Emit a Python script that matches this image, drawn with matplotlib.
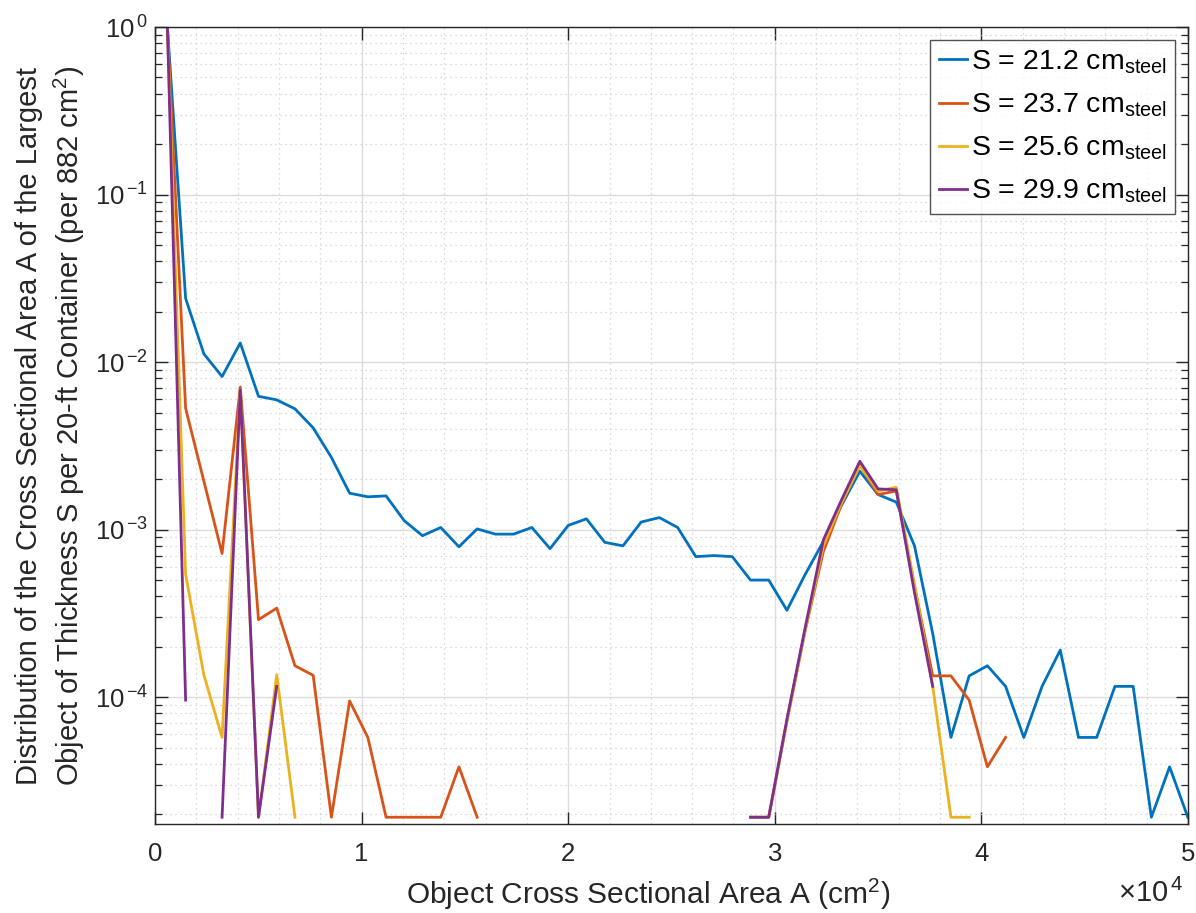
import numpy as np
import matplotlib
matplotlib.use("Agg")
import matplotlib.pyplot as plt
from matplotlib.ticker import LogLocator, MultipleLocator, FuncFormatter, NullFormatter

plt.rcParams['font.family'] = ['Liberation Sans', 'DejaVu Sans']
plt.rcParams['mathtext.fontset'] = 'custom'
plt.rcParams['mathtext.rm'] = 'Liberation Sans'
plt.rcParams['mathtext.it'] = 'Liberation Sans:italic'
plt.rcParams['mathtext.bf'] = 'Liberation Sans:bold'

nan = np.nan
bin_width = 882.0
first_center = 600.0
n_bins = 57

labels = ['S = 21.2 cm$_{\\mathrm{steel}}$', 'S = 23.7 cm$_{\\mathrm{steel}}$',
          'S = 25.6 cm$_{\\mathrm{steel}}$', 'S = 29.9 cm$_{\\mathrm{steel}}$']
colors = ['#0072BD', '#D95319', '#EDB120', '#7E2F8E']

s212 = [1.0, 0.024, 0.0112, 0.0082, 0.013, 0.00625, 0.00595, 0.00526, 0.00405, 0.0027,
        0.00165, 0.00157, 0.00159, 0.00113, 0.00092, 0.00103, 0.00079, 0.00101, 0.00094, 0.00094,
        0.00103, 0.00077, 0.00106, 0.00116, 0.00084, 0.00080, 0.00111, 0.00118, 0.00103, 0.00069,
        0.00070, 0.00069, 0.00050, 0.00050, 0.00033, 0.00054, 0.00085, 0.0014, 0.00223, 0.00162,
        0.00146, 0.0008, 0.00024, 5.75e-5, 1.34e-4, 1.54e-4, 1.16e-4, 5.75e-5, 1.16e-4, 1.91e-4,
        5.75e-5, 5.75e-5, 1.16e-4, 1.16e-4, 1.92e-5, 3.84e-5, 1.92e-5]

s237 = [1.0, 0.0053, 0.00195, 0.00072, 0.0071, 0.00029, 0.00034, 0.000154, 0.000135, 1.92e-5,
        9.5e-5, 5.75e-5, 1.92e-5, 1.92e-5, 1.92e-5, 1.92e-5, 3.84e-5, 1.92e-5, nan, nan,
        nan, nan, nan, nan, nan, nan, nan, nan, nan, nan,
        nan, nan, 1.92e-5, 1.92e-5, 7.2e-5, 2.5e-4, 0.00074, 0.00142, 0.00244, 0.00162,
        0.0017, 0.00046, 1.34e-4, 1.34e-4, 9.6e-5, 3.84e-5, 5.75e-5, nan, nan, nan,
        nan, nan, nan, nan, nan, nan, nan]

s256 = [1.0, 0.00054, 0.000136, 5.75e-5, 0.0068, 1.92e-5, 0.000136, 1.92e-5, nan, nan,
        nan, nan, nan, nan, nan, nan, nan, nan, nan, nan,
        nan, nan, nan, nan, nan, nan, nan, nan, nan, nan,
        nan, nan, 1.92e-5, 1.92e-5, 7.2e-5, 2.5e-4, 0.0008, 0.00145, 0.0024, 0.0017,
        0.00179, 0.00047, 1.16e-4, 1.92e-5, 1.92e-5, nan, nan, nan, nan, nan,
        nan, nan, nan, nan, nan, nan, nan]

s299 = [1.0, 9.6e-5, nan, 1.92e-5, 0.0068, 1.92e-5, 1.16e-4, nan, nan, nan,
        nan, nan, nan, nan, nan, nan, nan, nan, nan, nan,
        nan, nan, nan, nan, nan, nan, nan, nan, nan, nan,
        nan, nan, 1.92e-5, 1.92e-5, 7.4e-5, 2.6e-4, 0.00087, 0.00151, 0.00256, 0.00175,
        0.00173, 0.00042, 1.16e-4, nan, nan, nan, nan, nan, nan, nan,
        nan, nan, nan, nan, nan, nan, nan]

area = first_center + bin_width * np.arange(n_bins)
series = [s212, s237, s256, s299]

fig = plt.figure(figsize=(11.96, 9.13), dpi=100)
ax = fig.add_axes([0.1296, 0.0975, 0.8637, 0.8729])

for vals, c, lab in zip(series, colors, labels):
    ax.plot(area, np.array(vals, dtype=float), color=c, lw=2.0, label=lab)

ax.set_yscale('log')
ax.set_xlim(0, 50000)
ax.set_ylim(1.75e-5, 1.0)

ax.xaxis.set_major_locator(MultipleLocator(10000))
ax.xaxis.set_minor_locator(MultipleLocator(2000))
ax.xaxis.set_major_formatter(FuncFormatter(lambda v, p: '%d' % round(v / 1e4)))
ax.yaxis.set_major_locator(LogLocator(base=10, numticks=10))
ax.yaxis.set_major_formatter(FuncFormatter(
    lambda v, p: '$\\mathregular{10}^{\\,\\mathregular{%d}}$' % round(np.log10(v))))
ax.yaxis.set_minor_locator(LogLocator(base=10, subs=np.arange(2, 10), numticks=20))
ax.yaxis.set_minor_formatter(NullFormatter())

ax.grid(True, which='major', color='#dcdcdc', lw=1.0, ls='-')
ax.grid(True, which='minor', color='#cfcfcf', lw=0.9, ls=(0, (1, 3)))
ax.set_axisbelow(True)

ax.tick_params(which='both', direction='in', top=True, right=True, colors='#262626',
               labelsize=18.5)
ax.tick_params(which='major', length=9, width=1.0)
ax.tick_params(axis='y', which='minor', length=5, width=0.9)
ax.tick_params(axis='x', which='minor', length=0)
ax.tick_params(axis='x', which='major', pad=13)
ax.tick_params(axis='y', which='major', pad=5)
for sp in ax.spines.values():
    sp.set_color('#262626')
    sp.set_linewidth(1.0)

ax.set_xlabel('Object Cross Sectional Area A (cm$^2$)', fontsize=21.5, color='#262626')
ax.xaxis.set_label_coords(0.477, -0.066)
ax.set_ylabel('Distribution of the Cross Sectional Area A of the Largest\n'
              'Object of Thickness S per 20-ft Container (per 882 cm$^2$)',
              fontsize=21, color='#262626', linespacing=1.3)
ax.yaxis.set_label_coords(-0.066, 0.5)

fig.text(0.935, 0.012, '$\\times\\mathregular{10}^{\\,\\mathregular{4}}$', fontsize=21,
         color='#262626', ha='left', va='baseline')

leg = ax.legend(loc='upper right', fontsize=20.5, frameon=True, fancybox=False,
                edgecolor='#262626', handlelength=1.0, handletextpad=0.12,
                borderpad=0.3, labelspacing=0.55, borderaxespad=0.45)
leg.get_frame().set_linewidth(1.0)

fig.savefig('out.png', dpi=100)
